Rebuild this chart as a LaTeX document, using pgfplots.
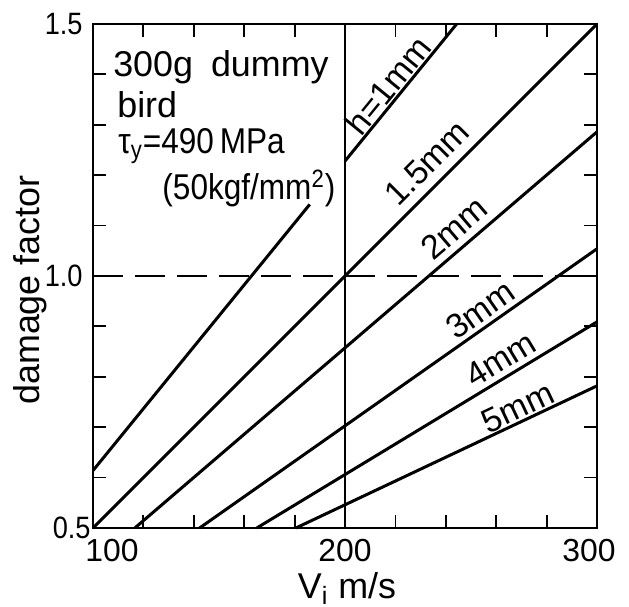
\documentclass[border=0pt]{standalone}
\usepackage{fontspec}
\setmainfont{Liberation Sans}
\newfontfamily\narrowfont{Liberation Sans}[FakeStretch=0.88]
\usepackage{pgfplots}
\pgfplotsset{compat=1.18}
\newcommand\bodyfont{\fontsize{18}{20}\selectfont}
\newcommand\labfont{\fontsize{17}{18}\selectfont}
\begin{document}
\begin{tikzpicture}
\begin{axis}[
  scale only axis, width=252bp, height=252bp,
  xmin=100, xmax=300, ymin=0.5, ymax=1.5,
  xtick={100,200,300},
  xticklabels={\hspace*{19bp}100,200,300\hspace*{8bp}},
  minor xtick={120,140,160,180,220,240,260,280},
  ytick={0.5,1.0,1.5},
  yticklabels={0.5\hspace*{-4bp},1.0,1.5},
  minor ytick={0.6,0.7,0.8,0.9,1.1,1.2,1.3,1.4},
  tick align=inside,
  major tick length=6.5bp, minor tick length=6.5bp,
  tick style={line width=0.9bp, black},
  axis line style={line width=1.2bp},
  /pgf/number format/assume math mode=true,
  xticklabel style={font=\fontsize{16}{16}\selectfont, inner sep=0pt, yshift=-5.5bp},
  yticklabel style={font=\narrowfont\fontsize{15.5}{15.5}\selectfont, inner sep=0pt, xshift=-5bp},
  xlabel={V\textsubscript{i} m/s},
  ylabel={damage factor},
  xlabel style={font=\fontsize{18}{18}\selectfont, at={(rel axis cs:0.504,-0.139)}, anchor=base},
  ylabel style={font=\fontsize{18}{18}\selectfont, at={(rel axis cs:-0.125,0.472)}, anchor=center},
  clip=false,
]
% reference lines
\addplot[line width=0.7bp] coordinates {(200,0.5) (200,1.5)};
\addplot[line width=1.1bp, dash pattern=on 15bp off 6bp] coordinates {(100,1.0) (300,1.0)};
% h = 1 mm (interrupted by the text)
\addplot[line width=1.5bp] coordinates {(100,0.614) (186,1.142)};
\addplot[line width=1.5bp] coordinates {(200,1.228) (244.3,1.5)};
% 1.5 mm
\addplot[line width=1.5bp] coordinates {(100,0.5) (300,1.5)};
% 2 mm
\addplot[line width=1.5bp] coordinates {(116.6,0.5) (300,1.286)};
% 3 mm
\addplot[line width=1.5bp] coordinates {(142.3,0.5) (300,1.054)};
% 4 mm
\addplot[line width=1.5bp] coordinates {(165,0.5) (300,0.909)};
% 5 mm
\addplot[line width=1.5bp] coordinates {(180.5,0.5) (300,0.782)};

\node[rotate=50.8, font=\labfont] at (axis cs:217.0,1.378) {h=1mm};
\node[rotate=45, font=\labfont] at (axis cs:232.5,1.224) {1.5mm};
\node[rotate=40.6, font=\labfont] at (axis cs:243.3,1.095) {2mm};
\node[rotate=35.1, font=\labfont] at (axis cs:253.8,0.933) {3mm};
\node[rotate=31.2, font=\labfont] at (axis cs:261.8,0.835) {4mm};
\node[rotate=25.3, font=\labfont] at (axis cs:268.5,0.739) {5mm};

\node[anchor=base west, font=\bodyfont, inner sep=0pt] at (axis cs:107.9,1.395) {300g\hspace{0.5em}dummy};
\node[anchor=base west, font=\bodyfont, inner sep=0pt] at (axis cs:109.5,1.315) {bird};
\node[anchor=base west, font=\narrowfont\bodyfont, inner sep=0pt] at (axis cs:109.9,1.244) {τ\textsubscript{y}=490\,MPa};
\node[anchor=base west, font=\narrowfont\bodyfont, inner sep=0pt] at (axis cs:127.4,1.151) {(50kgf/mm\textsuperscript{2})};

\coordinate (SW) at (rel axis cs:0,0);
\coordinate (NE) at (rel axis cs:1,1);
\end{axis}
\pgfresetboundingbox
\path[use as bounding box] ([shift={(-46.5bp,-39.5bp)}]SW) rectangle ([shift={(16bp,12bp)}]NE);
\end{tikzpicture}
\end{document}
